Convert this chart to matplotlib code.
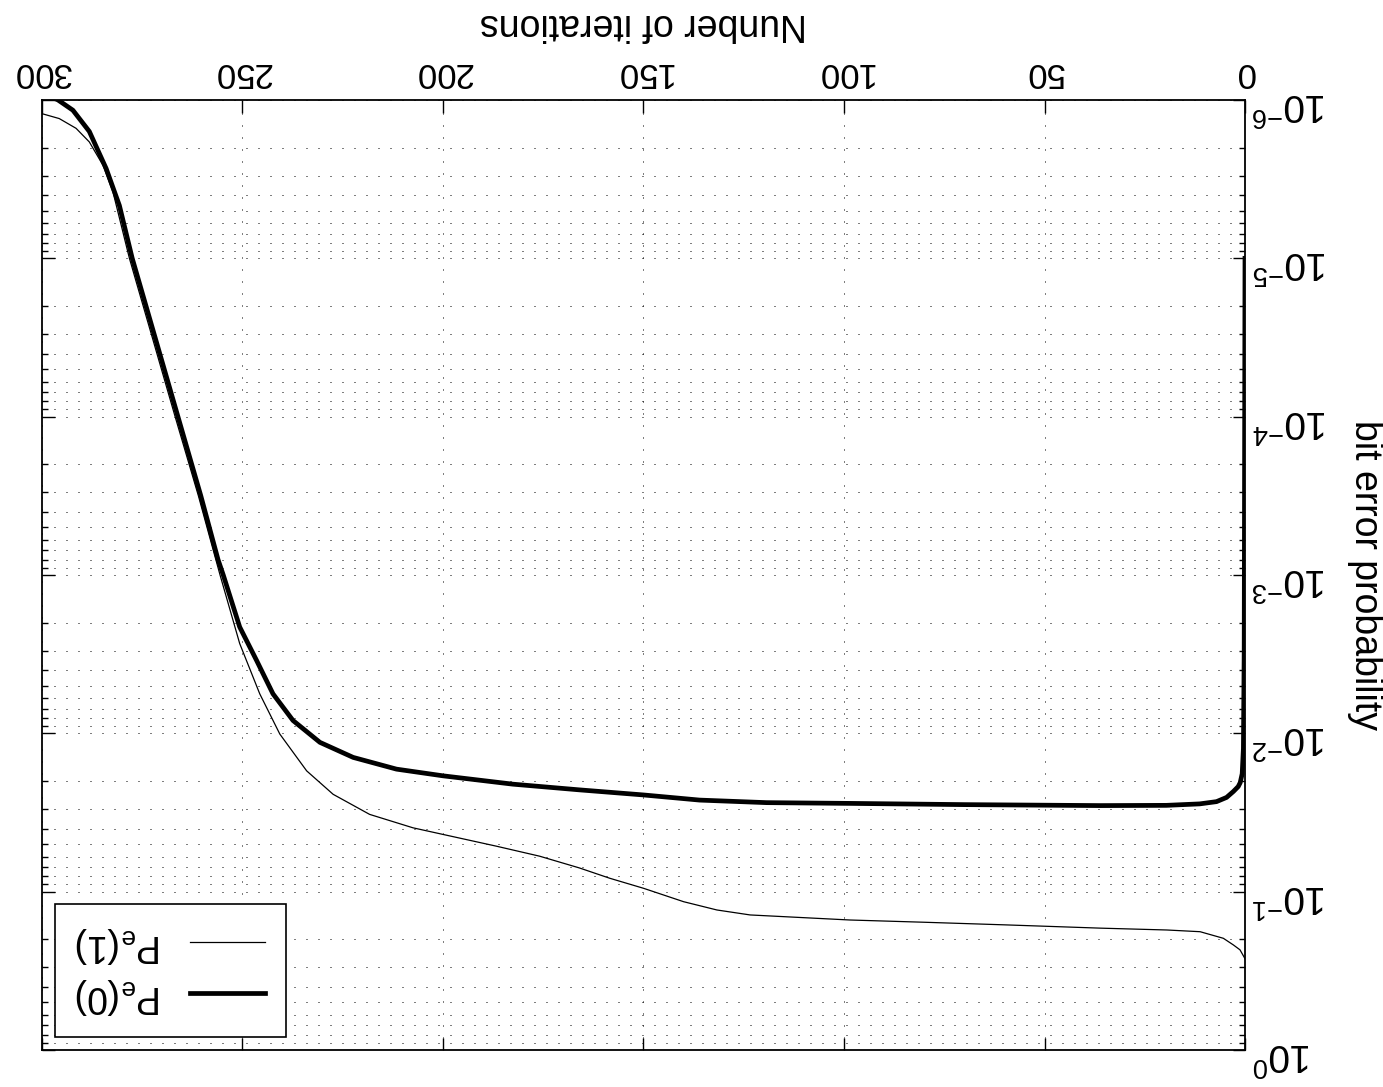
import matplotlib
matplotlib.use("Agg")
import matplotlib.pyplot as plt

plt.rcParams['font.family'] = ['Liberation Sans', 'DejaVu Sans']
plt.rcParams['mathtext.fontset'] = 'custom'
plt.rcParams['mathtext.rm'] = 'Liberation Sans'
plt.rcParams['mathtext.it'] = 'Liberation Sans:italic'
plt.rcParams['mathtext.default'] = 'regular'

# --- data ---
iter_pe0 = [0, 0.2, 0.4, 0.7, 1.2, 1.7, 2.9, 4.6, 7.1, 11.3, 19.6, 36, 70,
            98.5, 119.3, 136, 150, 166, 182.6, 200, 211.6, 222.4, 230.7,
            237.4, 242.4, 246.5, 250.7, 254.8, 256.1, 260.4, 266.1, 271.8,
            277.5, 280.7, 284, 288.2, 292.3, 296, 300]
pe0 = [1e-5, 3e-3, 0.0125, 0.018, 0.0205, 0.0217, 0.0233, 0.0254, 0.027,
       0.0279, 0.0285, 0.0286, 0.0282, 0.0277, 0.0274, 0.0264, 0.0245,
       0.02275, 0.02094, 0.01855, 0.01683, 0.01419, 0.0114, 0.0083, 0.00563,
       0.00346, 0.00213, 1.0e-3, 8.0e-4, 3.16e-4, 1.0e-4, 3.16e-5, 1.0e-5,
       4.64e-6, 2.71e-6, 1.58e-6, 1.16e-6, 1.0e-6, 0.9e-6]

iter_pe1 = [0, 1.25, 2.9, 5.4, 11.2, 19.5, 36, 60, 80, 98.5, 123.4, 131.7,
            140, 150, 158.4, 166, 175.9, 186.7, 200, 207.5, 218.3, 227.4, 234,
            240.7, 245.7, 250.7, 255.6, 261, 266.8, 272.5, 278.2, 282.3,
            284.8, 288.2, 291.5, 295.7, 300]
pe1 = [0.265, 0.233, 0.217, 0.197, 0.179, 0.1746, 0.170, 0.162, 0.156, 0.151,
       0.1403, 0.1305, 0.1157, 0.0952, 0.0823, 0.0708, 0.0597, 0.0516,
       0.0435, 0.0395, 0.0325, 0.02427, 0.01726, 0.0101, 0.00563, 0.00271,
       1.0e-3, 3.16e-4, 1.0e-4, 3.16e-5, 1.0e-5, 3.81e-6, 2.58e-6, 1.84e-6,
       1.51e-6, 1.31e-6, 1.22e-6]

labels = ['P$_e$(1)', 'P$_e$(0)']
xlabel = 'Nunber of iterations'
ylabel = 'bit error probability'

fig = plt.figure(figsize=(13.83, 10.87), dpi=100)
ax = fig.add_axes([42/1383, 37/1087, (1245-42)/1383, (1050-100)/1087])

# the whole chart is shown turned by 180 degrees
l1, = ax.plot(iter_pe1, pe1, color='black', lw=0.9)
l0, = ax.plot(iter_pe0, pe0, color='black', lw=3.4)

ax.set_yscale('log')
ax.set_xlim(300, 0)
ax.set_ylim(1, 1e-6)
ax.set_xticks([0, 50, 100, 150, 200, 250, 300])
ax.set_yticks([1e-6, 1e-5, 1e-4, 1e-3, 1e-2, 1e-1, 1])

grid_style = dict(color='black', lw=0.72, linestyle=(0, (1, 11)))
ax.grid(True, axis='x', which='major', **grid_style)
ax.grid(True, axis='y', which='both', **grid_style)

ax.tick_params(which='both', direction='in', top=True, bottom=True,
               left=True, right=True, labeltop=True, labelbottom=False,
               labelleft=False, labelright=True, width=1)
ax.tick_params(which='major', length=9)
ax.tick_params(which='minor', length=4)
ax.tick_params(axis='x', labelsize=25, pad=8)
ax.tick_params(axis='y', labelsize=28, pad=5)
for t in ax.get_xticklabels() + ax.get_yticklabels():
    t.set_rotation(180)

for s in ax.spines.values():
    s.set_linewidth(1.3)

ax.xaxis.set_label_position('top')
ax.yaxis.set_label_position('right')
ax.set_xlabel(xlabel, fontsize=27, rotation=180, labelpad=16)
ax.set_ylabel(ylabel, fontsize=27, rotation=270, labelpad=14, va='bottom')

leg = ax.legend([l1, l0], labels, loc='lower left', markerfirst=False,
                fontsize=27, frameon=True, fancybox=False, edgecolor='black',
                framealpha=1, borderaxespad=0.35, handlelength=2.0,
                labelspacing=0.3, borderpad=0.55, handletextpad=0.75)
leg.get_frame().set_linewidth(1.2)
for t in leg.get_texts():
    t.set_rotation(180)

fig.savefig('out.png', dpi=100)
